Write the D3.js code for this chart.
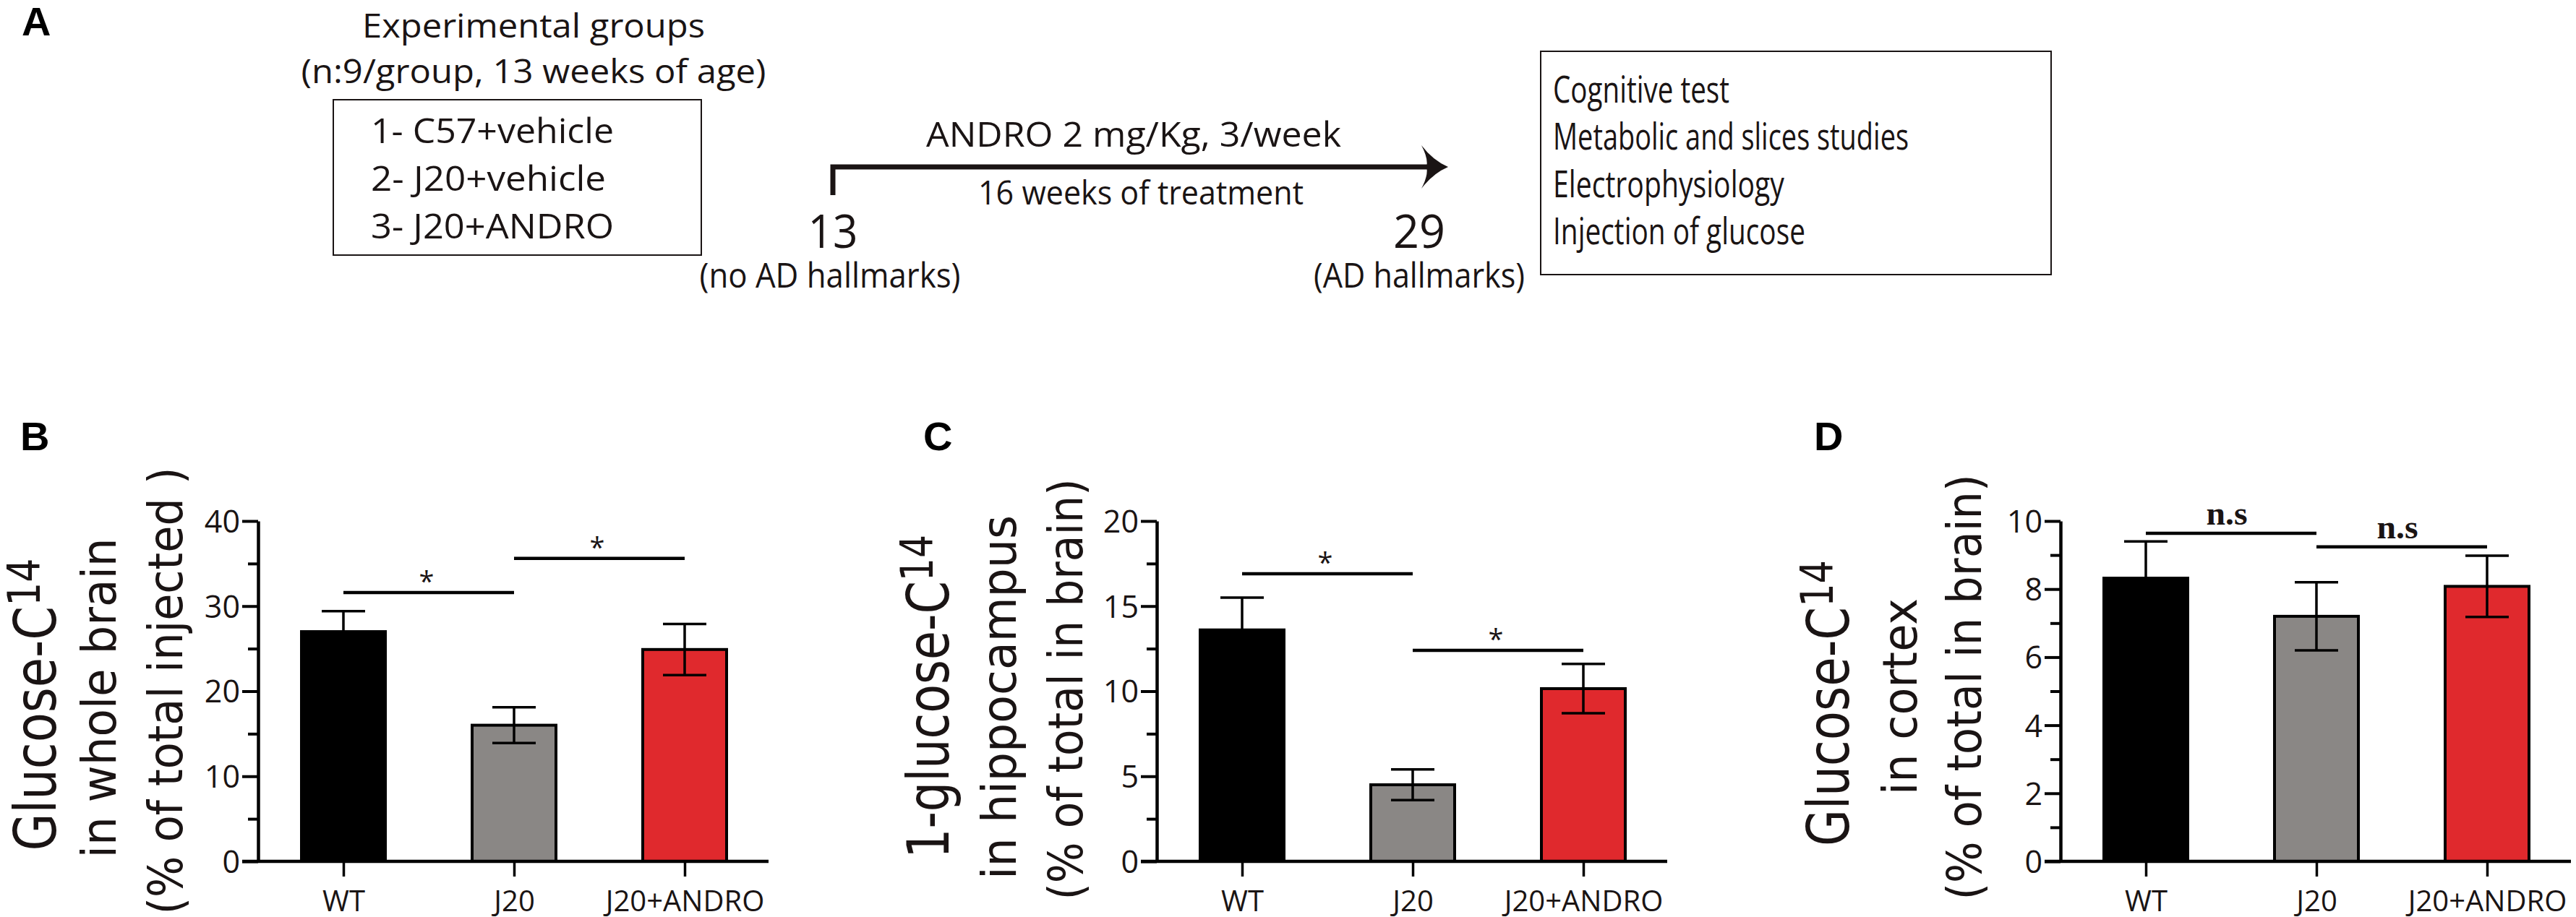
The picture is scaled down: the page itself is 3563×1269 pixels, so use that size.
<!DOCTYPE html>
<html>
<head>
<meta charset="utf-8">
<script src="https://cdn.jsdelivr.net/npm/d3@7"></script>
<style>
  body { margin: 0; background: #fff; }
  svg { display: block; }
  text { fill: #1a1414; }
</style>
</head>
<body>
<div class="charts"></div>
<script>
// Groups and colours
const groups = ["WT", "J20", "J20+ANDRO"];
const barColors = ["#000000", "#8a8785", "#e0292d"];

// Glucose-C14 in whole brain (% of total injected)
const wholeBrain = [27.0, 16.0, 24.9];
const wholeBrainSem = [2.4, 2.1, 3.0];
const wholeBrainSig = [[0, 1, 31.6], [1, 2, 35.6]];

// 1-glucose-C14 in hippocampus (% of total in brain)
const hippocampus = [13.6, 4.5, 10.15];
const hippocampusSem = [1.9, 0.9, 1.45];
const hippocampusSig = [[0, 1, 16.9], [1, 2, 12.4]];

// Glucose-C14 in cortex (% of total in brain)
const cortex = [8.32, 7.2, 8.08];
const cortexSem = [1.08, 1.0, 0.9];
const cortexSig = [[0, 1, 9.64], [1, 2, 9.24]];

// Y axis ticks
const wholeBrainTicks = [0, 10, 20, 30, 40];
const hippocampusTicks = [0, 5, 10, 15, 20];
const cortexTicks = [0, 2, 4, 6, 8, 10];

// Timeline texts
const groupList = ["1- C57+vehicle", "2- J20+vehicle", "3- J20+ANDRO"];
const outcomeList = ["Cognitive test", "Metabolic and slices studies", "Electrophysiology", "Injection of glucose"];

const W = 3563, H = 1269;
const svg = d3.select(".charts").append("svg")
  .attr("width", W).attr("height", H);

const font = "'Open Sans', 'DejaVu Sans', sans-serif";
const titleFont = "'DejaVu Sans', Verdana, sans-serif";

// helper for squeezed text
function txt(g, s, x, y, size, len, anchor) {
  const t = g.append("text")
    .attr("x", x).attr("y", y)
    .attr("font-family", font)
    .attr("font-size", size)
    .attr("text-anchor", anchor || "start")
    .text(s);
  if (len) t.attr("textLength", len).attr("lengthAdjust", "spacingAndGlyphs");
  return t;
}

// Panel letters
[["A", 30, 49], ["B", 28, 623], ["C", 1277, 623], ["D", 2509, 623]].forEach(d => {
  svg.append("text")
    .attr("x", d[1]).attr("y", d[2])
    .attr("font-family", "'Liberation Sans', Arial, sans-serif")
    .attr("font-weight", "bold")
    .attr("font-size", 56)
    .style("fill", "#000")
    .text(d[0]);
});

// ---------- Panel A ----------
const a = svg.append("g");

txt(a, "Experimental groups", 738, 52, 46, 474, "middle");
txt(a, "(n:9/group, 13 weeks of age)", 738, 115, 46, 643, "middle");

a.append("rect")
  .attr("x", 461).attr("y", 138).attr("width", 509).attr("height", 215)
  .attr("fill", "none").attr("stroke", "#1a1414").attr("stroke-width", 2);

const groupLens = [336, 325, 336];
groupList.forEach((s, i) => txt(a, s, 513, 198 + i * 66, 48, groupLens[i]));

// timeline
a.append("path")
  .attr("d", "M1152,270 V231 H1975")
  .attr("fill", "none").attr("stroke", "#1a1414").attr("stroke-width", 7);
a.append("path")
  .attr("d", "M2003,231 Q1982,222 1966,201 Q1976,220 1973,231 Q1976,242 1966,261 Q1982,240 2003,231 Z")
  .attr("fill", "#1a1414");

txt(a, "ANDRO 2 mg/Kg, 3/week", 1568, 203, 48, 574, "middle");
txt(a, "16 weeks of treatment", 1578, 283, 46, 450, "middle");
txt(a, "13", 1152, 343, 64, 69, "middle");
txt(a, "29", 1963, 343, 64, 72, "middle");
txt(a, "(no AD hallmarks)", 1148, 398, 48, 361, "middle");
txt(a, "(AD hallmarks)", 1963, 398, 48, 292, "middle");

a.append("rect")
  .attr("x", 2131).attr("y", 71).attr("width", 706).attr("height", 309)
  .attr("fill", "none").attr("stroke", "#1a1414").attr("stroke-width", 2);

const outcomeLens = [244, 492, 320, 349];
outcomeList.forEach((s, i) => txt(a, s, 2148, 142 + i * 65.3, 52, outcomeLens[i]));

// ---------- Bar panels ----------
const panels = [
  { axisX: 357, values: wholeBrain, sem: wholeBrainSem, ticks: wholeBrainTicks, sig: wholeBrainSig,
    mark: "*", baselines: [77, 160, 252],
    lines: [["Glucose-C", "14", 405, 975], ["in whole brain", null, 443, 966], ["(% of total injected )", null, 619, 956]] },
  { axisX: 1600, values: hippocampus, sem: hippocampusSem, ticks: hippocampusTicks, sig: hippocampusSig,
    mark: "*", baselines: [1312, 1405, 1497],
    lines: [["1-glucose-C", "14", 448, 964], ["in hippocampus", null, 504, 965], ["(% of total in brain)", null, 583, 954]] },
  { axisX: 2850, values: cortex, sem: cortexSem, ticks: cortexTicks, sig: cortexSig,
    mark: "n.s", baselines: [2557, 2651, 2740],
    lines: [["Glucose-C", "14", 396, 973], ["in cortex", null, 272, 964], ["(% of total in brain)", null, 589, 951]] }
];

const y0 = 1192, yTop = 721;

panels.forEach(p => {
  const g = svg.append("g");
  const yMax = d3.max(p.ticks);
  const y = d3.scaleLinear().domain([0, yMax]).range([y0, yTop]);
  const x = d3.scalePoint().domain(groups).range([p.axisX + 118, p.axisX + 590]);
  const barW = 116;
  const step = p.ticks[1] - p.ticks[0];
  const minor = p.ticks.slice(0, -1).map(t => t + step / 2);

  // minor ticks
  g.append("g")
    .attr("transform", `translate(${p.axisX},0)`)
    .call(d3.axisLeft(y).tickValues(minor).tickSize(14).tickFormat(""))
    .call(s => s.select(".domain").remove())
    .call(s => s.selectAll("line").attr("stroke", "#000").attr("stroke-width", 4));

  // major ticks + axis line
  g.append("g")
    .attr("transform", `translate(${p.axisX},0)`)
    .call(d3.axisLeft(y).tickValues(p.ticks).tickSize(22).tickSizeOuter(0).tickPadding(3))
    .call(s => s.select(".domain").attr("stroke", "#000").attr("stroke-width", 4.5))
    .call(s => s.selectAll("line").attr("stroke", "#000").attr("stroke-width", 4))
    .call(s => s.selectAll("text")
      .attr("font-family", font).attr("font-size", 43)
      .attr("dy", "0.36em").style("fill", "#1a1414"));

  // bars
  g.selectAll(".bar").data(p.values).enter().append("rect")
    .attr("x", (d, i) => x(groups[i]) - barW / 2)
    .attr("y", d => y(d))
    .attr("width", barW)
    .attr("height", d => y(0) - y(d))
    .attr("fill", (d, i) => barColors[i])
    .attr("stroke", "#000").attr("stroke-width", 4);

  // error bars
  const eb = g.selectAll(".err").data(p.values).enter().append("g")
    .attr("stroke", "#000").attr("stroke-width", 3.5);
  eb.append("line")
    .attr("x1", (d, i) => x(groups[i])).attr("x2", (d, i) => x(groups[i]))
    .attr("y1", (d, i) => y(d - p.sem[i])).attr("y2", (d, i) => y(d + p.sem[i]));
  [1, -1].forEach(sign => {
    eb.append("line")
      .attr("x1", (d, i) => x(groups[i]) - 30).attr("x2", (d, i) => x(groups[i]) + 30)
      .attr("y1", (d, i) => y(d + sign * p.sem[i])).attr("y2", (d, i) => y(d + sign * p.sem[i]));
  });

  // x axis
  g.append("line")
    .attr("x1", p.axisX - 22).attr("x2", p.axisX + 706)
    .attr("y1", y0).attr("y2", y0)
    .attr("stroke", "#000").attr("stroke-width", 4.5);
  g.append("g")
    .attr("transform", `translate(0,${y0})`)
    .call(d3.axisBottom(x).tickSize(21).tickPadding(20).tickSizeOuter(0))
    .call(s => s.select(".domain").remove())
    .call(s => s.selectAll("line").attr("stroke", "#000").attr("stroke-width", 3.5))
    .call(s => s.selectAll("text")
      .attr("font-family", font).attr("font-size", 40)
      .attr("dy", "0.71em").style("fill", "#1a1414"));

  // significance
  p.sig.forEach(s => {
    const xa = x(groups[s[0]]), xb = x(groups[s[1]]), yy = y(s[2]);
    g.append("line")
      .attr("x1", xa).attr("x2", xb).attr("y1", yy).attr("y2", yy)
      .attr("stroke", "#000").attr("stroke-width", 4.5);
    if (p.mark === "*") {
      g.append("text")
        .attr("x", (xa + xb) / 2 - 3).attr("y", yy - 2)
        .attr("text-anchor", "middle")
        .attr("font-family", font).attr("font-size", 38)
        .text("*");
    } else {
      g.append("text")
        .attr("x", (xa + xb) / 2 - 6).attr("y", yy - 12)
        .attr("text-anchor", "middle")
        .attr("font-family", "'Liberation Serif', 'Times New Roman', serif")
        .attr("font-weight", "bold").attr("font-size", 46)
        .attr("textLength", 57).attr("lengthAdjust", "spacingAndGlyphs")
        .text("n.s");
    }
  });

  // y titles (rotated)
  p.lines.forEach((l, i) => {
    const t = g.append("text")
      .attr("transform", `translate(${p.baselines[i]},${l[3]}) rotate(-90)`)
      .attr("text-anchor", "middle")
      .attr("font-family", titleFont)
      .attr("font-size", i === 0 ? 80 : 66)
      .attr("textLength", l[2]).attr("lengthAdjust", "spacingAndGlyphs");
    t.append("tspan").text(l[0]);
    if (l[1]) t.append("tspan").attr("dy", -22).attr("font-size", 62).text(l[1]);
  });
});
</script>
</body>
</html>
